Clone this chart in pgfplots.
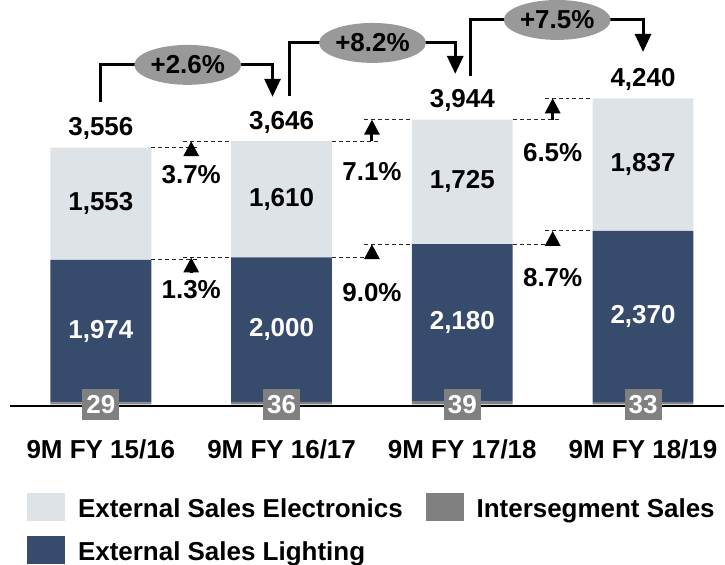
\documentclass[border=0pt]{standalone}
\usepackage{fontspec}
\setmainfont{Liberation Sans}
\usepackage{pgfplots}
\pgfplotsset{compat=1.18}
\usepackage{pgfplotstable}
\usetikzlibrary{arrows.meta,shapes.geometric}

\definecolor{lightbar}{RGB}{222,227,232}
\definecolor{navybar}{RGB}{55,76,108}
\definecolor{interseg}{RGB}{128,128,128}
\definecolor{bubble}{RGB}{153,153,153}

% 9M sales by segment (EUR m)
\pgfplotstableread{
x inter light elec
0 29 1974 1553
1 36 2000 1610
2 39 2180 1725
3 33 2370 1837
}\sales

\newcommand{\lbl}{\fontsize{26}{30}\selectfont\bfseries}

\pgfplotsset{
  frame/.style={
    width=725pt, height=566pt, scale only axis,
    xmin=-0.558, xmax=3.4475, ymin=-2185, ymax=5643,
    clip=false,
    /pgf/number format/assume math mode=true,
  },
}
\tikzset{
  growth/.style={line width=3pt, -{Triangle[width=15pt,length=15pt]}},
  guide/.style={line width=1pt, black!85, dash pattern=on 4pt off 3pt},
  bracket/.style={line width=3pt, line join=miter, -{Triangle[width=16pt,length=18pt]}},
  pill/.style={ellipse, fill=bubble, minimum width=107pt, minimum height=40pt, inner sep=0pt, font=\lbl},
}

\begin{document}
\begin{tikzpicture}[font=\lbl]
\begin{axis}[frame, ybar stacked, bar width=101pt,
  axis x line=middle, axis y line=none, x axis line style={draw=none},
  ytick=\empty,
  xtick=data, xticklabels={9M FY 15/16, 9M FY 16/17, 9M FY 17/18, 9M FY 18/19},
  major tick length=0pt,
  xticklabel style={font=\lbl, anchor=base, yshift=-54pt},
  legend image code/.code={\fill[#1, draw=none] (0pt,-13pt) rectangle (38pt,15pt);},
  legend style={at={(rel axis cs:0.0372,0.1219)}, anchor=north west,
    draw=none, fill=none, inner sep=0pt, font=\lbl,
    nodes={inner sep=0pt}, row sep=15pt,
    /tikz/every odd column/.append style={column sep=13pt},
    /tikz/every even column/.append style={column sep=23pt}},
  legend columns=2, legend cell align=left,
]
\addplot[fill=interseg, draw=none, forget plot] table[x=x, y=inter] {\sales};
\addplot[fill=navybar, draw=none, forget plot] table[x=x, y=light] {\sales};
\addplot[fill=lightbar, draw=none, forget plot] table[x=x, y=elec] {\sales};
\addlegendimage{fill=lightbar}
\addlegendentry{External Sales Electronics}
\addlegendimage{fill=interseg}
\addlegendentry{Intersegment Sales}
\addlegendimage{fill=navybar}
\addlegendentry{External Sales Lighting}
\draw[line width=2.2pt] (axis cs:-0.503,-18) -- (axis cs:3.4475,-18);
\end{axis}

\begin{axis}[frame, hide axis]
% segment values
\addplot[draw=none, mark=none, nodes near coords, point meta=explicit,
  nodes near coords style={anchor=center, text=white, font=\lbl}]
  table[x=x, y expr=\thisrow{inter}+\thisrow{light}/2, meta=light] {\sales};
\addplot[draw=none, mark=none, nodes near coords, point meta=explicit,
  nodes near coords style={anchor=center, text=black, font=\lbl}]
  table[x=x, y expr=\thisrow{inter}+\thisrow{light}+\thisrow{elec}/2, meta=elec] {\sales};
% intersegment boxes on the baseline
\addplot[draw=none, mark=none, nodes near coords, point meta=explicit,
  nodes near coords style={anchor=center, fill=interseg, text=white, font=\lbl,
    minimum width=37pt, minimum height=31pt, inner sep=0pt}]
  table[x=x, y expr=-5, meta=inter] {\sales};
% totals
\addplot[draw=none, mark=none, nodes near coords, point meta=y,
  nodes near coords style={anchor=base, yshift=12pt, text=black, font=\lbl}]
  table[x=x, y expr=\thisrow{inter}+\thisrow{light}+\thisrow{elec}] {\sales};

% growth of electronics (top) and lighting (bottom) between years
\draw[guide] (axis cs:0.279,3556) -- (axis cs:0.545,3556);
\draw[guide] (axis cs:0.455,3646) -- (axis cs:0.721,3646);
\draw[growth] (axis cs:0.5,3440) -- (axis cs:0.5,3646);
\draw[guide] (axis cs:0.279,2003) -- (axis cs:0.545,2003);
\draw[guide] (axis cs:0.455,2036) -- (axis cs:0.721,2036);
\draw[growth] (axis cs:0.5,1830) -- (axis cs:0.5,2036);
\node at (axis cs:0.5,3180) {3.7\%};
\node at (axis cs:0.5,1590) {1.3\%};

\draw[guide] (axis cs:1.279,3646) -- (axis cs:1.545,3646);
\draw[guide] (axis cs:1.455,3944) -- (axis cs:1.721,3944);
\draw[growth] (axis cs:1.5,3646) -- (axis cs:1.5,3944);
\draw[guide] (axis cs:1.279,2036) -- (axis cs:1.545,2036);
\draw[guide] (axis cs:1.455,2219) -- (axis cs:1.721,2219);
\draw[growth] (axis cs:1.5,2010) -- (axis cs:1.5,2219);
\node at (axis cs:1.5,3220) {7.1\%};
\node at (axis cs:1.5,1550) {9.0\%};

\draw[guide] (axis cs:2.279,3944) -- (axis cs:2.545,3944);
\draw[guide] (axis cs:2.455,4240) -- (axis cs:2.721,4240);
\draw[growth] (axis cs:2.5,3944) -- (axis cs:2.5,4240);
\draw[guide] (axis cs:2.279,2219) -- (axis cs:2.545,2219);
\draw[guide] (axis cs:2.455,2403) -- (axis cs:2.721,2403);
\draw[growth] (axis cs:2.5,2219) -- (axis cs:2.5,2403);
\node at (axis cs:2.5,3490) {6.5\%};
\node at (axis cs:2.5,1760) {8.7\%};

% year-on-year growth of total sales
\draw[bracket] (axis cs:0,4191) |- (axis cs:0.95,4703) -- (axis cs:0.95,4260);
\node[pill] at (axis cs:0.481,4703) {+2.6\%};
\draw[bracket] (axis cs:1.044,4274) |- (axis cs:1.961,5007) -- (axis cs:1.961,4578);
\node[pill] at (axis cs:1.503,5007) {+8.2\%};
\draw[bracket] (axis cs:2.044,4550) |- (axis cs:3,5325) -- (axis cs:3,4882);
\node[pill] at (axis cs:2.525,5325) {+7.5\%};
\end{axis}
\end{tikzpicture}
\end{document}
